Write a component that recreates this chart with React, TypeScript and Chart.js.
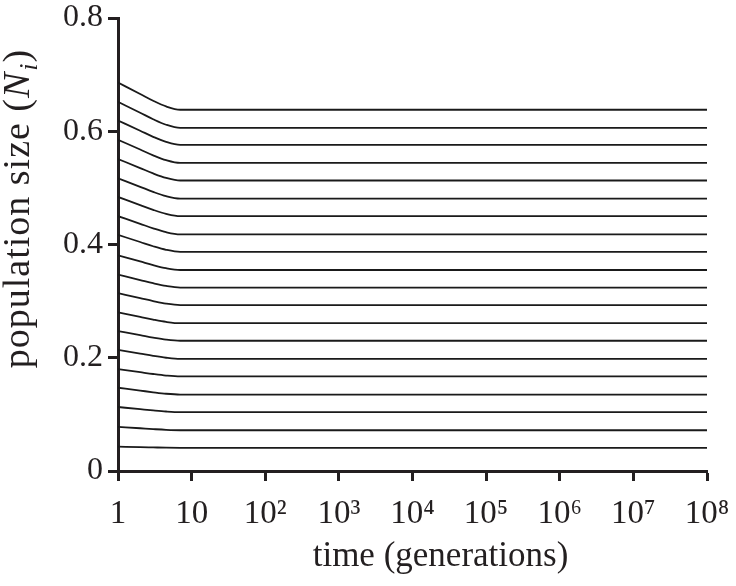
import React, { useEffect, useRef } from "react";
import { Chart, registerables } from "chart.js";

Chart.register(...registerables);

// time points (generations) at which values were read
const timePoints = [1, 2, 3, 4.5, 7, 1e8];

// population sizes of the 20 trajectories (bottom to top)
const initialSizes = [0.043, 0.078, 0.113, 0.147, 0.18, 0.214, 0.247, 0.28, 0.314, 0.347, 0.381, 0.417, 0.45, 0.484, 0.517, 0.551, 0.585, 0.619, 0.652, 0.686];
const sizesAtT2 = [0.0422, 0.0755, 0.1092, 0.142, 0.1745, 0.2073, 0.2399, 0.272, 0.3052, 0.3373, 0.3701, 0.4044, 0.4366, 0.4697, 0.5019, 0.535, 0.5678, 0.6009, 0.6327, 0.6658];
const sizesAtT3 = [0.0417, 0.074, 0.107, 0.139, 0.1713, 0.2033, 0.2356, 0.2673, 0.3, 0.3316, 0.3636, 0.3969, 0.4286, 0.4612, 0.4929, 0.5255, 0.5575, 0.5902, 0.6212, 0.6538];
const sizesAtT4_5 = [0.0412, 0.0727, 0.1051, 0.1364, 0.1686, 0.2, 0.232, 0.2633, 0.2955, 0.3268, 0.3581, 0.3906, 0.4218, 0.4541, 0.4853, 0.5176, 0.5489, 0.5812, 0.6115, 0.6438];
const equilibriumSizes = [0.041, 0.072, 0.104, 0.135, 0.167, 0.198, 0.23, 0.261, 0.293, 0.324, 0.355, 0.387, 0.418, 0.45, 0.481, 0.513, 0.544, 0.576, 0.606, 0.638];

const xTickValues = [1, 10, 1e2, 1e3, 1e4, 1e5, 1e6, 1e7, 1e8];
const xTickLabels = ["1", "10", "10²", "10³", "10⁴", "10⁵", "10⁶", "10⁷", "10⁸"];
const yTickValues = [0, 0.2, 0.4, 0.6, 0.8];
const yTickLabels = ["0", "0.2", "0.4", "0.6", "0.8"];

const xTitle = "time (generations)";
const yTitleParts = ["population size (", "N", "i", ")"];

const INK = "#231f20";
const SERIF = '"Liberation Serif", "Times New Roman", serif';

const titlesPlugin = {
  id: "customTitles",
  afterDraw(chart: any) {
    const { ctx, chartArea } = chart;
    ctx.save();
    ctx.fillStyle = INK;
    ctx.font = `35px ${SERIF}`;
    ctx.textAlign = "center";
    ctx.textBaseline = "alphabetic";
    ctx.fillText(xTitle, (chartArea.left + chartArea.right) / 2 + 28, 566);

    const fonts = [`38px ${SERIF}`, `italic 38px ${SERIF}`, `italic 26px ${SERIF}`, `38px ${SERIF}`];
    const dys = [0, 0, 8, 0];
    try {
      (ctx as any).letterSpacing = "1px";
    } catch (e) {}
    const widths = yTitleParts.map((t, i) => {
      ctx.font = fonts[i];
      return ctx.measureText(t).width;
    });
    const total = widths.reduce((a, b) => a + b, 0);
    ctx.translate(29, 209);
    ctx.rotate(-Math.PI / 2);
    ctx.textAlign = "left";
    let x = -total / 2;
    yTitleParts.forEach((t, i) => {
      ctx.font = fonts[i];
      ctx.fillText(t, x, dys[i]);
      x += widths[i] + (i === 1 ? 1 : 0);
    });
    ctx.restore();
  },
};

export default function App() {
  const canvasRef = useRef<HTMLCanvasElement | null>(null);

  useEffect(() => {
    document.body.style.margin = "0";
    const canvas = canvasRef.current;
    if (!canvas) return;
    const series = [initialSizes, sizesAtT2, sizesAtT3, sizesAtT4_5, equilibriumSizes, equilibriumSizes];
    const datasets = initialSizes.map((_, k) => ({
      data: timePoints.map((t, j) => ({ x: t, y: series[j][k] })),
      borderColor: "#1a1a1a",
      borderWidth: 1.8,
      pointRadius: 0,
      fill: false,
      cubicInterpolationMode: "monotone" as const,
    }));

    const chart = new Chart(canvas, {
      type: "line",
      data: { datasets },
      plugins: [titlesPlugin],
      options: {
        animation: false,
        responsive: false,
        layout: { padding: { top: 18, right: 29, left: 0, bottom: 0 } },
        plugins: { legend: { display: false }, tooltip: { enabled: false } },
        scales: {
          x: {
            type: "logarithmic",
            min: 1,
            max: 1e8,
            afterBuildTicks: (scale: any) => {
              scale.ticks = xTickValues.map((v) => ({ value: v }));
            },
            afterFit: (scale: any) => {
              scale.height = 115;
              scale.paddingLeft = 0;
              scale.paddingRight = 0;
            },
            ticks: {
              autoSkip: false,
              maxRotation: 0,
              color: INK,
              padding: 14,
              font: { family: SERIF, size: 33 },
              callback: (_v: any, i: number) => xTickLabels[i],
            },
            grid: { drawOnChartArea: false, drawTicks: true, tickLength: 10, tickWidth: 3, color: INK },
            border: { display: true, width: 3, color: INK },
          },
          y: {
            type: "linear",
            min: 0,
            max: 0.8,
            afterBuildTicks: (scale: any) => {
              scale.ticks = yTickValues.map((v) => ({ value: v }));
            },
            afterFit: (scale: any) => {
              scale.width = 118;
              scale.paddingTop = 0;
              scale.paddingBottom = 0;
            },
            ticks: {
              color: INK,
              padding: 5,
              font: { family: SERIF, size: 32, lineHeight: 1 },
              callback: (_v: any, i: number) => yTickLabels[i],
            },
            grid: { drawOnChartArea: false, drawTicks: true, tickLength: 10, tickWidth: 3, color: INK },
            border: { display: true, width: 3, color: INK },
          },
        },
      },
    });
    return () => chart.destroy();
  }, []);

  return (
    <div style={{ width: 736, height: 586, background: "#fff" }}>
      <canvas ref={canvasRef} width={736} height={586} />
    </div>
  );
}
